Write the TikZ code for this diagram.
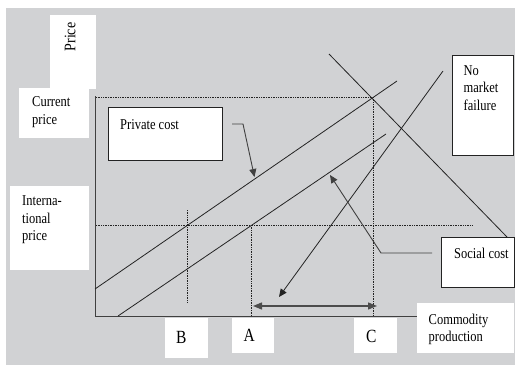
\documentclass[tikz,border=0pt]{standalone}
\usepackage{fontspec}
\setmainfont{Liberation Serif}
\usepackage{graphicx}
\usetikzlibrary{arrows.meta}
\definecolor{bg}{RGB}{209,210,212}
\definecolor{ink}{RGB}{35,35,35}
\newcommand\mylbl[1]{\scalebox{1}[1.2]{\begin{tabular}[t]{@{}l@{}}#1\end{tabular}}}
\begin{document}
\begin{tikzpicture}[x=1pt,y=-1pt,
 wbox/.style={fill=white, draw=none, inner sep=0, outer sep=0, anchor=north west},
 bordbox/.style={fill=white, draw=ink, line width=0.8pt, inner sep=0, outer sep=0, anchor=north west},
 txt/.style={inner sep=0, anchor=base west, font=\fontsize{12.5}{14.6}\selectfont, text=black},
 big/.style={font=\fontsize{15.5}{17}\selectfont},
 axis/.style={draw=black!75, line width=1pt},
 curve/.style={draw=ink, line width=0.8pt},
 dotl/.style={draw=ink, line width=0.6pt, dash pattern=on 0.8pt off 0.9pt},
 tip/.style={-{Triangle[length=8pt,width=7pt]}},
 callout/.style={draw=black!75, line width=0.9pt},
]
% background
\fill[white] (0,0) rectangle (515,367);
\fill[bg] (6,8) rectangle (515,365);
\useasboundingbox (0,0) rectangle (515,367);

% white label boxes
\node[wbox, minimum width=46pt, minimum height=74pt] (pricebox) at (50,15) {};
\node[wbox, minimum width=70pt, minimum height=50pt] (curbox) at (19,88) {};
\node[wbox, minimum width=79pt, minimum height=84pt] (intbox) at (10,186) {};
\node[wbox, minimum width=43pt, minimum height=40pt] (bbx) at (165,318) {};
\node[wbox, minimum width=42pt, minimum height=35pt] (abx) at (232,318) {};
\node[wbox, minimum width=43pt, minimum height=35pt] (cbx) at (354,318) {};
\node[wbox, minimum width=97pt, minimum height=50pt] (combox) at (417,303) {};

% bordered boxes
\node[bordbox, minimum width=114pt, minimum height=53pt] (pcbox) at (108,107) {};
\node[bordbox, minimum width=61pt, minimum height=100pt] (nmfbox) at (452,55) {};
\node[bordbox, minimum width=73.5pt, minimum height=50pt] (scbox) at (441,237) {};

% coordinates
\coordinate (O) at (95,316);
\coordinate (ytop) at (95,96);
\coordinate (E) at (373,97);
\coordinate (Ey) at (96,97);
\coordinate (EA) at (373,316);
\coordinate (ip1) at (96,225);
\coordinate (ip2) at (473,225);
\coordinate (B1) at (187,210);
\coordinate (B2) at (187,303);
\coordinate (A1) at (251.5,225);
\coordinate (A2) at (251.5,316);
\coordinate (pc1) at (95,289);
\coordinate (pc2) at (397,81);
\coordinate (sc1) at (118,316);
\coordinate (sc2) at (386,134);
\coordinate (d1) at (329,54);
\coordinate (d2) at (507,237);
\coordinate (st1) at (443,71);
\coordinate (st2) at (279,297);
\coordinate (da1) at (253,306);
\coordinate (da2) at (377,306);
\coordinate (pcc0) at (232,124);
\coordinate (pcc1) at (243,124);
\coordinate (pcc2) at (254.5,177);
\coordinate (scc0) at (432,253);
\coordinate (scc1) at (381,253);
\coordinate (scc2) at (330,175);

% dotted guide lines
\draw[dotl] (Ey) -- (E) -- (EA);
\draw[dotl] (ip1) -- (ip2);
\draw[dotl] (B1) -- (B2);
\draw[dotl] (A1) -- (A2);

% axes
\draw[axis] (ytop) -- (O) -- (O -| combox.west);

% curves
\draw[curve] (pc1) -- (pc2);
\draw[curve] (sc1) -- (sc2);
\draw[curve] (d1) -- (d2);
\draw[curve, tip] (st1) -- (st2);

% double arrow
\draw[draw=black!70, line width=1.3pt, {Triangle[length=9pt,width=7pt]}-{Triangle[length=9pt,width=7pt]}] (da1) -- (da2);

% callouts
\draw[callout, tip] (pcc0) -- (pcc1) -- (pcc2);
\draw[callout, tip] (scc0) -- (scc1) -- (scc2);

% texts
\node[inner sep=0, rotate=90, font=\fontsize{14}{16}\selectfont, text=black] (tprice) at (70,37) {\scalebox{1}[1.15]{Price}};
\node[txt] (tcur) at (32,106.5) {\mylbl{Current\\price}};
\node[txt] (tint) at (22,205.7) {\mylbl{Interna-\\tional\\price}};
\node[txt] (tpc) at (120,129.5) {\mylbl{Private cost}};
\node[txt] (tnmf) at (463.5,75) {\mylbl{No\\market\\failure}};
\node[txt] (tsc) at (454,258.3) {\mylbl{Social cost}};
\node[txt] (tcom) at (428.5,324) {\mylbl{Commodity\\production}};
\node[txt, big] (tB) at (176,343.3) {\mylbl{B}};
\node[txt, big] (tA) at (243.3,341.7) {\mylbl{A}};
\node[txt, big] (tC) at (366,342.3) {\mylbl{C}};
\end{tikzpicture}
\end{document}
